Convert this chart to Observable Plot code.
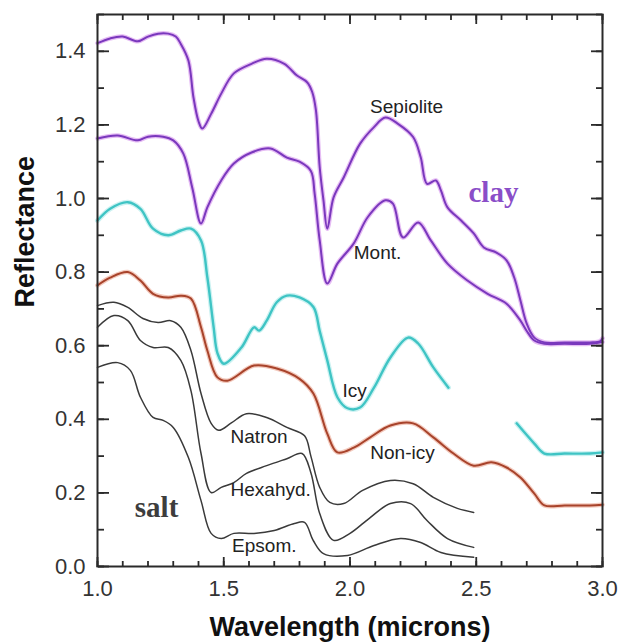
<!DOCTYPE html>
<html>
<head>
<meta charset="utf-8">
<script src="https://cdn.jsdelivr.net/npm/d3@7"></script>
<script src="https://cdn.jsdelivr.net/npm/@observablehq/plot@0.6"></script>
<style>
  body { margin: 0; background: #fff; }
  #chart svg { font-family: "Liberation Sans", Arial, sans-serif; background: #fff; }
</style>
</head>
<body>
<div id="chart"></div>
<script>
// ---- Data ----
const sepioliteX = [1.00,1.05,1.10,1.16,1.20,1.24,1.28,1.31,1.33,1.36,1.38,1.40,1.415,1.45,1.49,1.54,1.61,1.67,1.74,1.79,1.83,1.85,1.865,1.88,1.895,1.91,1.935,1.975,2.04,2.095,2.14,2.19,2.25,2.28,2.305,2.34,2.36,2.386,2.44,2.49,2.53,2.58,2.62,2.65,2.675,2.70,2.73,2.77,2.85,2.95,2.99,3.00];
const sepioliteY = [1.422,1.435,1.440,1.427,1.440,1.448,1.448,1.440,1.420,1.375,1.275,1.210,1.190,1.230,1.285,1.340,1.366,1.380,1.366,1.334,1.316,1.290,1.240,1.085,0.995,0.918,1.003,1.057,1.149,1.194,1.220,1.203,1.167,1.112,1.040,1.049,1.022,0.976,0.940,0.905,0.867,0.853,0.832,0.786,0.723,0.660,0.622,0.609,0.609,0.609,0.612,0.620];

const montX = [1.00,1.08,1.16,1.20,1.26,1.30,1.34,1.375,1.41,1.435,1.49,1.54,1.61,1.685,1.75,1.80,1.845,1.86,1.88,1.91,1.95,2.015,2.07,2.14,2.17,2.21,2.27,2.32,2.386,2.465,2.545,2.62,2.675,2.70,2.73,2.77,2.85,2.95,3.00];
const montY = [1.163,1.171,1.158,1.168,1.168,1.158,1.122,1.030,0.932,0.976,1.049,1.095,1.125,1.136,1.111,1.100,1.075,1.013,0.886,0.769,0.823,0.878,0.949,0.995,0.986,0.894,0.935,0.886,0.823,0.777,0.741,0.714,0.668,0.640,0.614,0.605,0.605,0.605,0.610];

// null marks the gap in the Icy spectrum
const icyX = [1.00,1.05,1.12,1.17,1.22,1.28,1.33,1.37,1.41,1.435,1.46,1.475,1.50,1.57,1.62,1.64,1.67,1.71,1.75,1.80,1.855,1.88,1.91,1.95,1.99,2.04,2.095,2.16,2.23,2.27,2.33,2.39,2.50,2.66,2.73,2.77,2.85,2.95,3.00];
const icyY = [0.940,0.972,0.990,0.972,0.918,0.900,0.913,0.918,0.886,0.786,0.650,0.580,0.551,0.595,0.650,0.641,0.668,0.718,0.736,0.731,0.705,0.640,0.560,0.460,0.430,0.432,0.486,0.568,0.622,0.606,0.541,0.486,null,0.389,0.334,0.307,0.307,0.307,0.310];

const nonIcyX = [1.00,1.05,1.12,1.17,1.22,1.28,1.33,1.37,1.41,1.435,1.475,1.515,1.62,1.71,1.80,1.855,1.91,1.95,2.015,2.08,2.16,2.25,2.33,2.41,2.49,2.56,2.62,2.675,2.73,2.77,2.85,2.95,3.00];
const nonIcyY = [0.764,0.785,0.800,0.777,0.741,0.731,0.736,0.728,0.650,0.587,0.514,0.505,0.546,0.538,0.510,0.470,0.361,0.310,0.323,0.351,0.383,0.389,0.351,0.307,0.274,0.283,0.269,0.242,0.198,0.166,0.166,0.166,0.168];

const natronX = [1.00,1.065,1.12,1.18,1.24,1.29,1.33,1.37,1.41,1.45,1.48,1.53,1.59,1.67,1.75,1.82,1.845,1.88,1.92,1.975,2.05,2.16,2.25,2.33,2.425,2.49];
const natronY = [0.709,0.718,0.704,0.674,0.663,0.668,0.650,0.587,0.470,0.389,0.370,0.390,0.415,0.405,0.378,0.355,0.300,0.215,0.174,0.171,0.207,0.234,0.225,0.188,0.158,0.147];

const hexahydX = [1.00,1.065,1.12,1.17,1.22,1.28,1.33,1.37,1.41,1.45,1.49,1.54,1.59,1.67,1.75,1.81,1.845,1.88,1.935,2.00,2.08,2.16,2.24,2.305,2.386,2.49];
const hexahydY = [0.650,0.682,0.668,0.614,0.595,0.595,0.560,0.478,0.307,0.201,0.215,0.228,0.253,0.274,0.293,0.307,0.255,0.144,0.071,0.090,0.133,0.171,0.171,0.125,0.076,0.052];

const epsomX = [1.00,1.08,1.13,1.17,1.22,1.26,1.30,1.36,1.41,1.45,1.49,1.54,1.62,1.70,1.78,1.82,1.855,1.895,1.99,2.095,2.20,2.28,2.36,2.49];
const epsomY = [0.541,0.554,0.533,0.460,0.405,0.397,0.378,0.296,0.179,0.090,0.076,0.090,0.090,0.098,0.117,0.120,0.070,0.035,0.030,0.057,0.076,0.065,0.038,0.025];

const curveLabels = ["Sepiolite","Mont.","Icy","Non-icy"];
const curveLabelX = [2.224, 2.109, 2.018, 2.208];
const curveLabelY = [1.250, 0.853, 0.478, 0.310];

const saltLabels = ["Natron","Hexahyd.","Epsom."];
const saltLabelX = [1.527, 1.527, 1.533];
const saltLabelY = [0.353, 0.207, 0.057];

const groupLabels = ["clay","salt"];
const groupLabelX = [2.568, 1.234];
const groupLabelY = [1.016, 0.160];

const xTicks = [1.0, 1.5, 2.0, 2.5, 3.0];
const xTickLabels = ["1.0","1.5","2.0","2.5","3.0"];
const yTicks = [0.0, 0.2, 0.4, 0.6, 0.8, 1.0, 1.2, 1.4];
const yTickLabels = ["0.0","0.2","0.4","0.6","0.8","1.0","1.2","1.4"];
const xMinorTicks = d3.range(0, 21).map(i => 1 + i / 10);
const yMinorTicks = d3.range(0, 16).map(i => i / 10);

const xTitle = "Wavelength (microns)";
const yTitle = "Reflectance";

// ---- Build tables ----
const series = (xs, ys) => xs.map((x, i) => ({x, y: ys[i]}));
const sepiolite = series(sepioliteX, sepioliteY);
const mont = series(montX, montY);
const icy = series(icyX, icyY);
const nonIcy = series(nonIcyX, nonIcyY);
const natron = series(natronX, natronY);
const hexahyd = series(hexahydX, hexahydY);
const epsom = series(epsomX, epsomY);
const labelTable = (names, xs, ys) => names.map((t, i) => ({t, x: xs[i], y: ys[i]}));

const purple = "#7a38bd";
const purpleHalo = "#e6bdf4";
const cyan = "#3fc4c4";
const cyanHalo = "#cdf2f2";
const brown = "#a8432b";
const brownHalo = "#f3cabe";
const gray = "#3a3a3a";
const axisColor = "#2a2a2a";
const C = "catmull-rom";

const W = 619, H = 642, ML = 97, MR = 17, MT = 14, MB = 76;

const fmt = (ticks, labels) => d => labels[ticks.indexOf(d)];
// inward ticks: the tick shape of the opposite side, anchored on this side of the frame
const inTicksX = (side, ticks, len) => Plot.axisX({anchor: side === "bottom" ? "top" : "bottom", frameAnchor: side, ticks, tickSize: len, fill: "none", stroke: axisColor, strokeWidth: 1.8, label: null});
const inTicksY = (side, ticks, len) => Plot.axisY({anchor: side === "left" ? "right" : "left", frameAnchor: side, ticks, tickSize: len, fill: "none", stroke: axisColor, strokeWidth: 1.8, label: null});

const chart = Plot.plot({
  width: W,
  height: H,
  marginLeft: ML,
  marginRight: MR,
  marginTop: MT,
  marginBottom: MB,
  x: {domain: [1, 3]},
  y: {domain: [0, 1.5]},
  marks: [
    // halos
    Plot.line(sepiolite, {x: "x", y: "y", stroke: purpleHalo, strokeWidth: 4.5, curve: C}),
    Plot.line(mont, {x: "x", y: "y", stroke: purpleHalo, strokeWidth: 4.5, curve: C}),
    Plot.line(icy, {x: "x", y: "y", stroke: cyanHalo, strokeWidth: 5, curve: C}),
    Plot.line(nonIcy, {x: "x", y: "y", stroke: brownHalo, strokeWidth: 4.5, curve: C}),
    // salts
    Plot.line(natron, {x: "x", y: "y", stroke: gray, strokeWidth: 1.5, curve: C}),
    Plot.line(hexahyd, {x: "x", y: "y", stroke: gray, strokeWidth: 1.5, curve: C}),
    Plot.line(epsom, {x: "x", y: "y", stroke: gray, strokeWidth: 1.5, curve: C}),
    // colored spectra
    Plot.line(nonIcy, {x: "x", y: "y", stroke: brown, strokeWidth: 2, curve: C}),
    Plot.line(icy, {x: "x", y: "y", stroke: cyan, strokeWidth: 2.4, curve: C}),
    Plot.line(mont, {x: "x", y: "y", stroke: purple, strokeWidth: 2, curve: C}),
    Plot.line(sepiolite, {x: "x", y: "y", stroke: purple, strokeWidth: 2, curve: C}),
    // labels
    Plot.text(labelTable(curveLabels, curveLabelX, curveLabelY), {x: "x", y: "y", text: "t", fontSize: 19, fill: "#222", textAnchor: "middle"}),
    Plot.text(labelTable(saltLabels, saltLabelX, saltLabelY), {x: "x", y: "y", text: "t", fontSize: 19, fill: "#222", textAnchor: "start"}),
    Plot.text(labelTable(groupLabels, groupLabelX, groupLabelY), {x: "x", y: "y", text: "t", fontSize: 29, fontWeight: "bold", fontFamily: "Liberation Serif, serif", fill: d => d.t === "clay" ? "#8a4ec8" : "#3d3d3d", letterSpacing: "2px"}),
    // inward ticks
    inTicksX("bottom", xMinorTicks, 6),
    inTicksX("bottom", xTicks, 10),
    inTicksX("top", xMinorTicks, 6),
    inTicksX("top", xTicks, 10),
    inTicksY("left", yMinorTicks, 6),
    inTicksY("left", yTicks, 11),
    inTicksY("right", yMinorTicks, 6),
    inTicksY("right", yTicks, 11),
    // frame
    Plot.frame({stroke: axisColor, strokeWidth: 2}),
    // tick labels
    Plot.axisX({ticks: xTicks, tickFormat: fmt(xTicks, xTickLabels), tickSize: 0, tickPadding: 14, fontSize: 22, fill: "#333", label: null}),
    Plot.axisY({ticks: yTicks, tickFormat: fmt(yTicks, yTickLabels), tickSize: 0, tickPadding: 12, fontSize: 22, fill: "#333", label: null}),
    // axis titles
    Plot.text([xTitle], {frameAnchor: "bottom", dy: 61, text: d => d, fontSize: 27, fontWeight: "bold", fill: "#111", lineAnchor: "middle"}),
    Plot.text([yTitle], {frameAnchor: "left", dx: -72, dy: 17, rotate: -90, text: d => d, fontSize: 27, fontWeight: "bold", fill: "#111", lineAnchor: "middle"})
  ]
});
document.getElementById("chart").append(chart);
</script>
</body>
</html>
